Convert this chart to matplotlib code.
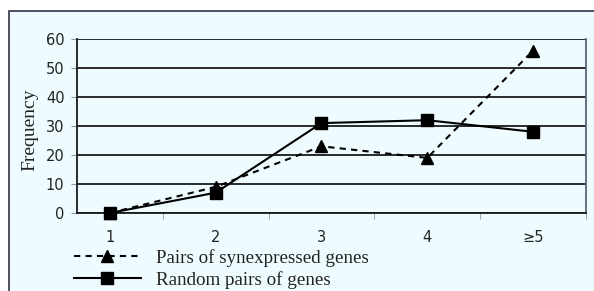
import matplotlib
matplotlib.use("Agg")
import matplotlib.pyplot as plt
from matplotlib.patches import Rectangle
from matplotlib.lines import Line2D

categories = ["1", "2", "3", "4", "\u22655"]
synexpressed = [0, 9, 23, 19, 56]
random_pairs = [0, 7, 31, 32, 28]
y_ticks = [0, 10, 20, 30, 40, 50, 60]

BG = "#effcff"
W, H = 594, 291
fig = plt.figure(figsize=(W / 100, H / 100), dpi=100)
fig.patch.set_facecolor("white")

# outer pale box
fig.patches.append(Rectangle((9 / W, -0.01), 1.0, 1 - 11 / H + 0.01,
                             transform=fig.transFigure, facecolor=BG,
                             edgecolor="#333344", linewidth=1.2, zorder=-5))

ax = fig.add_axes([77 / W, 1 - 213 / H, (586 - 77) / W, (213 - 39) / H])
ax.set_zorder(2)
ax.set_facecolor(BG)

x = list(range(1, len(categories) + 1))
ax.plot(x, synexpressed, color="black", linestyle=(0, (3, 2.5)), linewidth=1.5,
        marker="^", markersize=8.5, zorder=3, clip_on=False)
ax.plot(x, random_pairs, color="black", linestyle="-", linewidth=1.5,
        marker="s", markersize=8.5, zorder=3, clip_on=False)

ax.set_xlim(0.69, 5.5)
ax.set_ylim(0, 60)
ax.set_yticks(y_ticks)
ax.set_yticklabels([str(v) for v in y_ticks], fontsize=10.5, family="DejaVu Sans", color="#222222")
for v in y_ticks:
    ax.axhline(v, color="#1a1a1a", linewidth=1.3, zorder=1)

ax.set_xticks(x)
ax.set_xticklabels(categories, fontsize=10.5, family="DejaVu Sans", color="#222222")
ax.tick_params(axis="x", which="major", length=0, pad=12)
ax.set_xticks([1.5, 2.5, 3.5, 4.5, 5.5], minor=True)
ax.tick_params(axis="x", which="minor", length=4, color="#8899aa", direction="out")
ax.tick_params(axis="y", length=4, color="#8899aa", pad=5)

ax.spines["top"].set_visible(False)
ax.spines["left"].set_color("#1a1a1a")
ax.spines["left"].set_linewidth(1.3)
ax.spines["bottom"].set_color("#1a1a1a")
ax.spines["bottom"].set_linewidth(1.3)
ax.spines["right"].set_color("#556677")
ax.spines["right"].set_linewidth(1.3)

fig.text(30 / W, 1 - 130 / H, "Frequency", rotation=90, ha="center", va="center",
         fontsize=14, family="Liberation Serif", color="#222222")

handles = [
    Line2D([], [], color="black", linestyle=(0, (3, 2.5)), linewidth=1.5, marker="^", markersize=8.5),
    Line2D([], [], color="black", linestyle="-", linewidth=1.5, marker="s", markersize=8.5),
]
leg = fig.legend(handles, ["Pairs of synexpressed genes", "Random pairs of genes"],
                 loc="upper left", bbox_to_anchor=(74 / W, 1 - 249 / H),
                 frameon=False, handlelength=3.5, handletextpad=0.8,
                 labelspacing=0.22, borderpad=0, borderaxespad=0,
                 prop={"family": "Liberation Serif", "size": 13.7})
leg.set_zorder(3)
for t in leg.get_texts():
    t.set_color("#222222")

fig.savefig("out.png", dpi=100, facecolor="white")
